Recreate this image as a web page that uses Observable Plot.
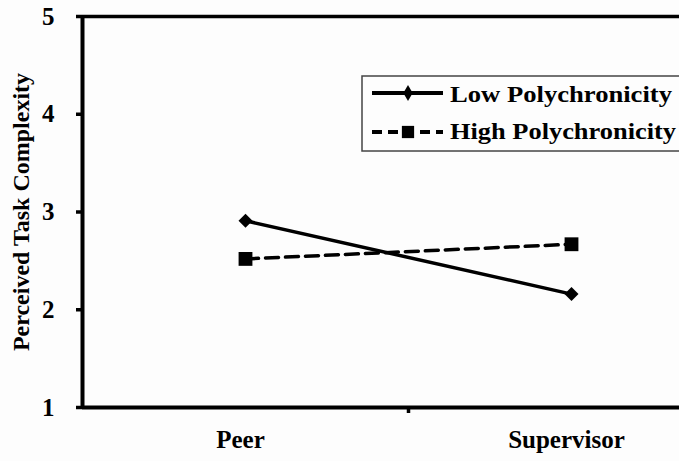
<!DOCTYPE html>
<html>
<head>
<meta charset="utf-8">
<script src="https://cdn.jsdelivr.net/npm/d3@7"></script>
<script src="https://cdn.jsdelivr.net/npm/@observablehq/plot@0.6"></script>
<style>
  html, body { margin: 0; padding: 0; background: #fdfdfd; }
  #chart svg { font-family: "Liberation Serif", "Times New Roman", serif; font-weight: bold; }
  #chart svg [aria-label="y-axis label"] text { font-size: 24px; }
</style>
</head>
<body>
<div id="chart"></div>
<script>
const categories = ["Peer", "Supervisor"];
const seriesNames = ["Low Polychronicity", "High Polychronicity"];
const lowValues = [2.91, 2.16];
const highValues = [2.52, 2.67];
const yTicks = [1, 2, 3, 4, 5];
const yLabel = "Perceived Task Complexity";

const low = categories.map((c, i) => ({cat: c, idx: i + 0.5, value: lowValues[i], series: seriesNames[0]}));
const high = categories.map((c, i) => ({cat: c, idx: i + 0.5, value: highValues[i], series: seriesNames[1]}));
const catPos = categories.map((c, i) => ({cat: c, idx: i + 0.5}));

const chart = Plot.plot({
  width: 679,
  height: 461,
  marginLeft: 82,
  marginRight: 0,
  marginTop: 16,
  marginBottom: 54,
  style: {background: "#fdfdfd", color: "black", overflow: "visible"},
  x: {domain: [0, 2], range: [82, 734]},
  y: {domain: [1, 5]},
  marks: [
    Plot.axisY({ticks: yTicks, tickSize: 6, tickPadding: 22, tickFormat: "d", fontSize: 25, strokeWidth: 3.5,
      label: yLabel, labelAnchor: "center", labelArrow: "none", labelOffset: 71}),
    Plot.axisX({ticks: [1], tickSize: 6, tickFormat: () => "", strokeWidth: 3.5, label: null}),
    Plot.ruleY([5], {stroke: "black", strokeWidth: 3.5}),
    Plot.ruleY([1], {stroke: "black", strokeWidth: 4}),
    Plot.ruleX([0], {stroke: "black", strokeWidth: 4}),
    Plot.text(catPos, {x: "idx", text: "cat", frameAnchor: "bottom", dy: 40, dx: -5, fontSize: 25, fontWeight: "bold", fill: "black"}),
    Plot.line(high, {x: "idx", y: "value", stroke: "black", strokeWidth: 3.5, strokeDasharray: "13,7"}),
    Plot.line(low, {x: "idx", y: "value", stroke: "black", strokeWidth: 3.5}),
    Plot.dot(low, {x: "idx", y: "value", symbol: "diamond2", r: 6.3, fill: "black", stroke: "none"}),
    Plot.dot(high, {x: "idx", y: "value", symbol: "square", r: 7.8, fill: "black", stroke: "none"})
  ]
});
document.getElementById("chart").appendChild(chart);

// legend
const svg = d3.select(chart);
const lg = svg.append("g").attr("class", "legend");
lg.append("rect").attr("x", 362).attr("y", 76).attr("width", 340).attr("height", 75)
  .attr("fill", "#fdfdfd").attr("stroke", "#444").attr("stroke-width", 1.5);
const rows = [
  {name: seriesNames[0], y: 93, base: 102, len: 222, dash: null, sym: d3.symbolDiamond, size: 75},
  {name: seriesNames[1], y: 132, base: 139, len: 226, dash: "10,6", sym: d3.symbolSquare, size: 150}
];
rows.forEach(r => {
  lg.append("line").attr("x1", 372).attr("x2", 443).attr("y1", r.y).attr("y2", r.y)
    .attr("stroke", "black").attr("stroke-width", 4).attr("stroke-dasharray", r.dash);
  lg.append("path").attr("d", d3.symbol(r.sym, r.size)()).attr("transform", `translate(408,${r.y})`).attr("fill", "black");
  lg.append("text").attr("x", 450).attr("y", r.base).attr("font-size", 24).attr("font-weight", "bold")
    .attr("text-anchor", "start").attr("textLength", r.len).attr("lengthAdjust", "spacingAndGlyphs")
    .attr("fill", "black").text(r.name);
});
</script>
</body>
</html>
